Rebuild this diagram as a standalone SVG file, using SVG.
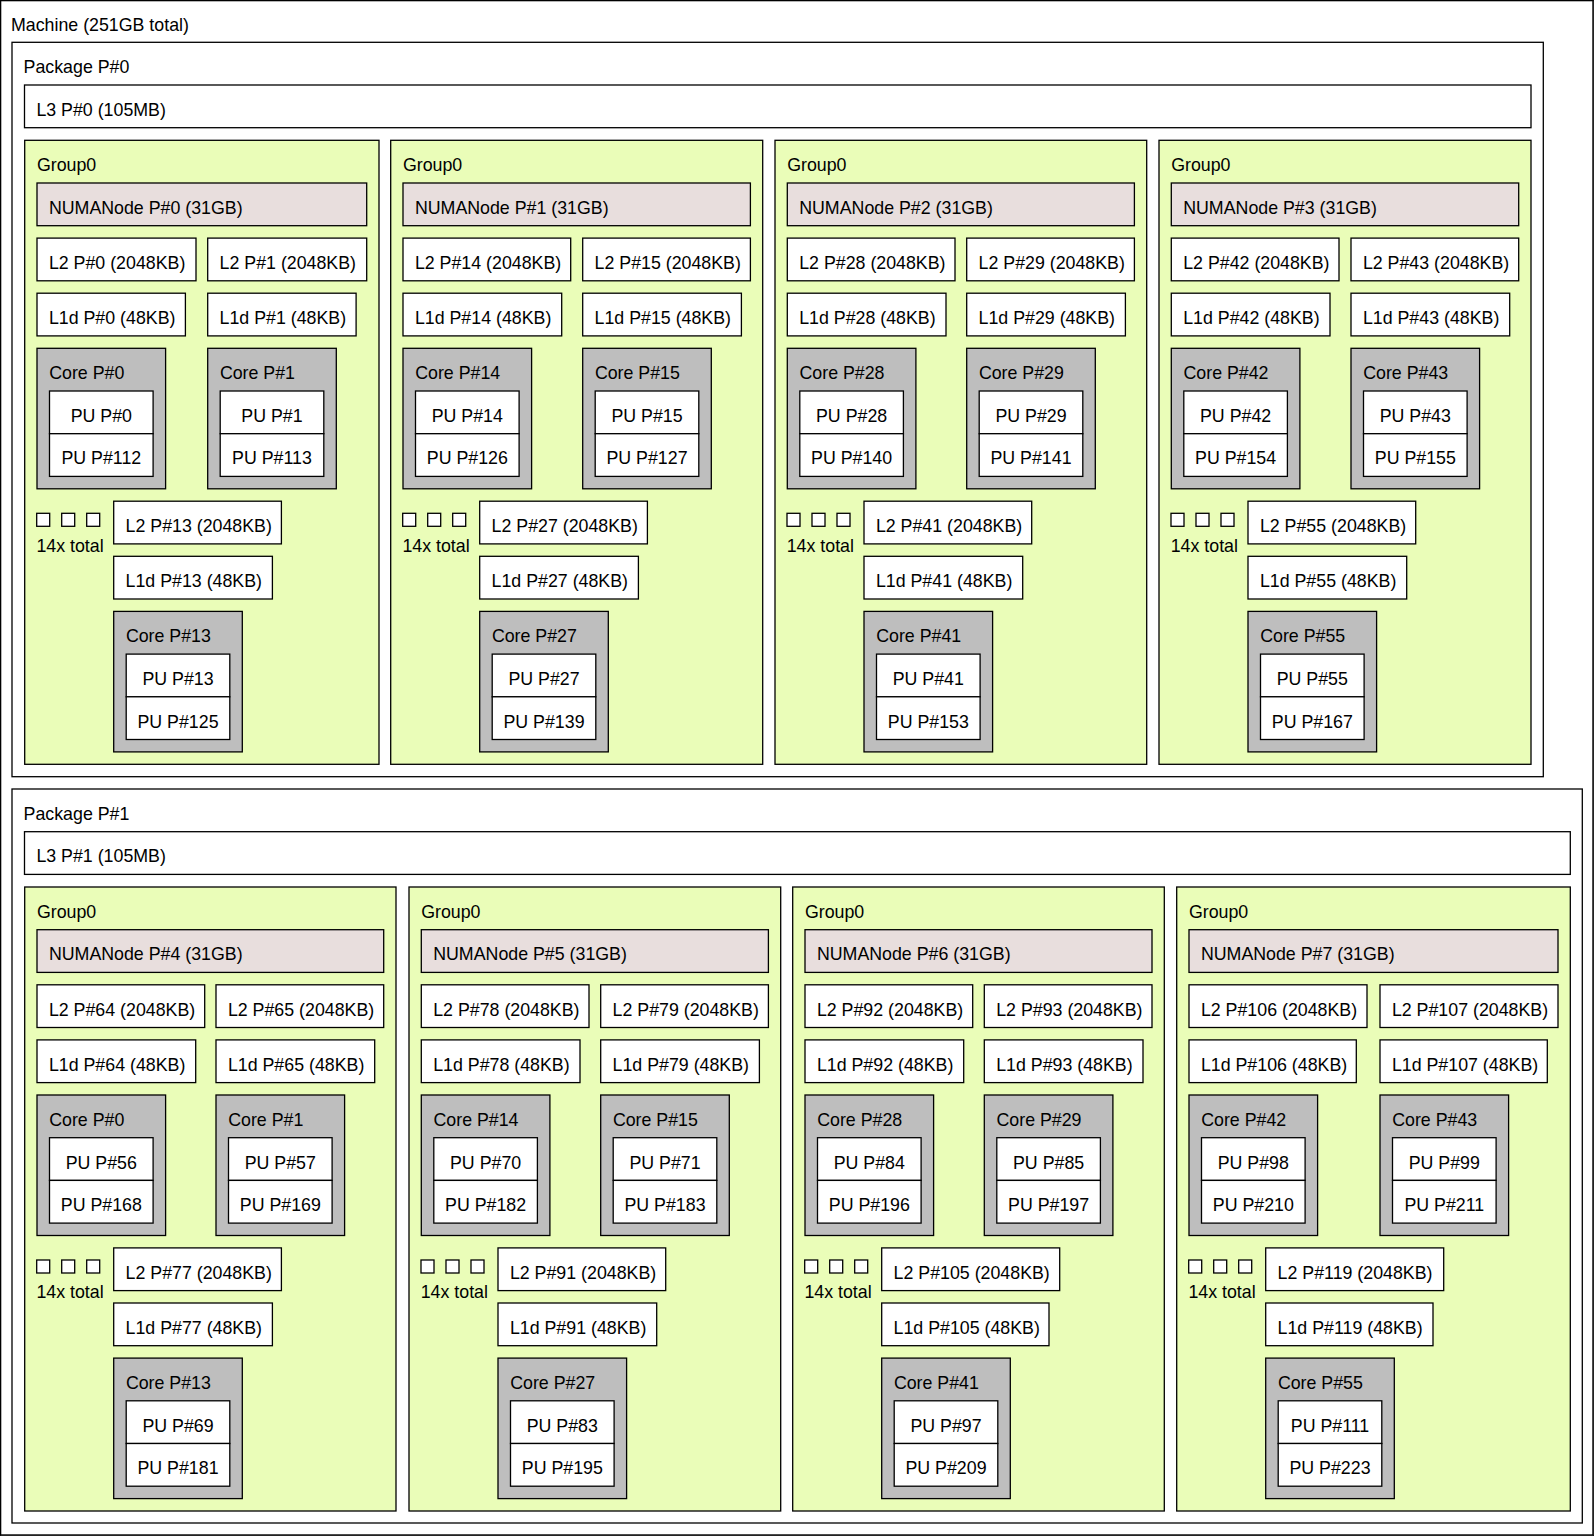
<svg xmlns="http://www.w3.org/2000/svg" width="1594" height="1536" viewBox="0 0 1594 1536">
<style>
  rect { stroke: #000; stroke-width: 1.3; }
  .w { fill: #ffffff; }
  .grp { fill: #eafdb8; }
  .numa { fill: #e8dedd; }
  .core { fill: #bebebe; }
  text { font-family: "Liberation Sans", Arial, Helvetica, sans-serif; font-size: 17.8px; fill: #000; }
  .c { text-anchor: middle; }
</style>
<rect x="0" y="0" width="1594" height="1536" fill="#ffffff" stroke="none"/>

<!-- Machine -->
<g id="machine">
  <rect class="w" x="0.65" y="0.65" width="1592.3" height="1534.3"/>
  <text x="11" y="31.3">Machine (251GB total)</text>
</g>

<!-- Package P#0 -->
<g id="package0">
  <rect class="w" x="12" y="42.3" width="1531.3" height="734.4"/>
  <text x="23.6" y="73.2">Package P#0</text>
</g>
<g id="l3-0" transform="translate(24.5,85)">
  <rect class="w" width="1506.5" height="42.7"/>
  <text x="11.9" y="30.8">L3 P#0 (105MB)</text>
</g>

<!-- Group0 / NUMANode P#0 -->
<g id="grp0" transform="translate(24.7,140.3)">
  <rect class="grp" width="354.3" height="624"/>
  <text x="12.2" y="30.8">Group0</text>
  <g id="numa0" transform="translate(12.3,42.7)"><rect class="numa" width="329.7" height="42.7"/><text x="11.9" y="30.8">NUMANode P#0 (31GB)</text></g>
  <g id="l2-0" transform="translate(12.3,97.8)"><rect class="w" width="159" height="42.7"/><text x="11.9" y="30.8">L2 P#0 (2048KB)</text></g>
  <g id="l2-1" transform="translate(183,97.8)"><rect class="w" width="159" height="42.7"/><text x="11.9" y="30.8">L2 P#1 (2048KB)</text></g>
  <g id="l1d-0" transform="translate(12.3,152.9)"><rect class="w" width="148.4" height="42.7"/><text x="11.9" y="30.8">L1d P#0 (48KB)</text></g>
  <g id="l1d-1" transform="translate(183,152.9)"><rect class="w" width="148.4" height="42.7"/><text x="11.9" y="30.8">L1d P#1 (48KB)</text></g>
  <g id="grp0-core0" transform="translate(12.3,208)"><rect class="core" width="128.6" height="140.5"/><text x="12.2" y="30.8">Core P#0</text>
    <g id="pu0"><rect class="w" x="12.5" y="42.7" width="103.6" height="42.7"/><text class="c" x="64.3" y="73.5">PU P#0</text></g>
    <g id="pu112"><rect class="w" x="12.5" y="85.4" width="103.6" height="42.7"/><text class="c" x="64.3" y="116.2">PU P#112</text></g></g>
  <g id="grp0-core1" transform="translate(183,208)"><rect class="core" width="128.6" height="140.5"/><text x="12.2" y="30.8">Core P#1</text>
    <g id="pu1"><rect class="w" x="12.5" y="42.7" width="103.6" height="42.7"/><text class="c" x="64.3" y="73.5">PU P#1</text></g>
    <g id="pu113"><rect class="w" x="12.5" y="85.4" width="103.6" height="42.7"/><text class="c" x="64.3" y="116.2">PU P#113</text></g></g>
  <g id="grp0-more"><rect class="w" x="12" y="373" width="13" height="13"/><rect class="w" x="37" y="373" width="13" height="13"/><rect class="w" x="62" y="373" width="13" height="13"/><text x="11.7" y="411.4">14x total</text></g>
  <g id="l2-13" transform="translate(89,360.9)"><rect class="w" width="167.7" height="42.7"/><text x="11.9" y="30.8">L2 P#13 (2048KB)</text></g>
  <g id="l1d-13" transform="translate(89,416)"><rect class="w" width="158.7" height="42.7"/><text x="11.9" y="30.8">L1d P#13 (48KB)</text></g>
  <g id="grp0-core13" transform="translate(89,471.1)"><rect class="core" width="128.6" height="140.5"/><text x="12.2" y="30.8">Core P#13</text>
    <g id="pu13"><rect class="w" x="12.5" y="42.7" width="103.6" height="42.7"/><text class="c" x="64.3" y="73.5">PU P#13</text></g>
    <g id="pu125"><rect class="w" x="12.5" y="85.4" width="103.6" height="42.7"/><text class="c" x="64.3" y="116.2">PU P#125</text></g></g>
</g>

<!-- Group0 / NUMANode P#1 -->
<g id="grp1" transform="translate(390.7,140.3)">
  <rect class="grp" width="372" height="624"/>
  <text x="12.2" y="30.8">Group0</text>
  <g id="numa1" transform="translate(12.3,42.7)"><rect class="numa" width="347.4" height="42.7"/><text x="11.9" y="30.8">NUMANode P#1 (31GB)</text></g>
  <g id="l2-14" transform="translate(12.3,97.8)"><rect class="w" width="167.7" height="42.7"/><text x="11.9" y="30.8">L2 P#14 (2048KB)</text></g>
  <g id="l2-15" transform="translate(192,97.8)"><rect class="w" width="167.7" height="42.7"/><text x="11.9" y="30.8">L2 P#15 (2048KB)</text></g>
  <g id="l1d-14" transform="translate(12.3,152.9)"><rect class="w" width="158.7" height="42.7"/><text x="11.9" y="30.8">L1d P#14 (48KB)</text></g>
  <g id="l1d-15" transform="translate(192,152.9)"><rect class="w" width="158.7" height="42.7"/><text x="11.9" y="30.8">L1d P#15 (48KB)</text></g>
  <g id="grp1-core14" transform="translate(12.3,208)"><rect class="core" width="128.6" height="140.5"/><text x="12.2" y="30.8">Core P#14</text>
    <g id="pu14"><rect class="w" x="12.5" y="42.7" width="103.6" height="42.7"/><text class="c" x="64.3" y="73.5">PU P#14</text></g>
    <g id="pu126"><rect class="w" x="12.5" y="85.4" width="103.6" height="42.7"/><text class="c" x="64.3" y="116.2">PU P#126</text></g></g>
  <g id="grp1-core15" transform="translate(192,208)"><rect class="core" width="128.6" height="140.5"/><text x="12.2" y="30.8">Core P#15</text>
    <g id="pu15"><rect class="w" x="12.5" y="42.7" width="103.6" height="42.7"/><text class="c" x="64.3" y="73.5">PU P#15</text></g>
    <g id="pu127"><rect class="w" x="12.5" y="85.4" width="103.6" height="42.7"/><text class="c" x="64.3" y="116.2">PU P#127</text></g></g>
  <g id="grp1-more"><rect class="w" x="12" y="373" width="13" height="13"/><rect class="w" x="37" y="373" width="13" height="13"/><rect class="w" x="62" y="373" width="13" height="13"/><text x="11.7" y="411.4">14x total</text></g>
  <g id="l2-27" transform="translate(89,360.9)"><rect class="w" width="167.7" height="42.7"/><text x="11.9" y="30.8">L2 P#27 (2048KB)</text></g>
  <g id="l1d-27" transform="translate(89,416)"><rect class="w" width="158.7" height="42.7"/><text x="11.9" y="30.8">L1d P#27 (48KB)</text></g>
  <g id="grp1-core27" transform="translate(89,471.1)"><rect class="core" width="128.6" height="140.5"/><text x="12.2" y="30.8">Core P#27</text>
    <g id="pu27"><rect class="w" x="12.5" y="42.7" width="103.6" height="42.7"/><text class="c" x="64.3" y="73.5">PU P#27</text></g>
    <g id="pu139"><rect class="w" x="12.5" y="85.4" width="103.6" height="42.7"/><text class="c" x="64.3" y="116.2">PU P#139</text></g></g>
</g>

<!-- Group0 / NUMANode P#2 -->
<g id="grp2" transform="translate(775,140.3)">
  <rect class="grp" width="371.7" height="624"/>
  <text x="12.2" y="30.8">Group0</text>
  <g id="numa2" transform="translate(12.3,42.7)"><rect class="numa" width="347.1" height="42.7"/><text x="11.9" y="30.8">NUMANode P#2 (31GB)</text></g>
  <g id="l2-28" transform="translate(12.3,97.8)"><rect class="w" width="167.7" height="42.7"/><text x="11.9" y="30.8">L2 P#28 (2048KB)</text></g>
  <g id="l2-29" transform="translate(191.7,97.8)"><rect class="w" width="167.7" height="42.7"/><text x="11.9" y="30.8">L2 P#29 (2048KB)</text></g>
  <g id="l1d-28" transform="translate(12.3,152.9)"><rect class="w" width="158.7" height="42.7"/><text x="11.9" y="30.8">L1d P#28 (48KB)</text></g>
  <g id="l1d-29" transform="translate(191.7,152.9)"><rect class="w" width="158.7" height="42.7"/><text x="11.9" y="30.8">L1d P#29 (48KB)</text></g>
  <g id="grp2-core28" transform="translate(12.3,208)"><rect class="core" width="128.6" height="140.5"/><text x="12.2" y="30.8">Core P#28</text>
    <g id="pu28"><rect class="w" x="12.5" y="42.7" width="103.6" height="42.7"/><text class="c" x="64.3" y="73.5">PU P#28</text></g>
    <g id="pu140"><rect class="w" x="12.5" y="85.4" width="103.6" height="42.7"/><text class="c" x="64.3" y="116.2">PU P#140</text></g></g>
  <g id="grp2-core29" transform="translate(191.7,208)"><rect class="core" width="128.6" height="140.5"/><text x="12.2" y="30.8">Core P#29</text>
    <g id="pu29"><rect class="w" x="12.5" y="42.7" width="103.6" height="42.7"/><text class="c" x="64.3" y="73.5">PU P#29</text></g>
    <g id="pu141"><rect class="w" x="12.5" y="85.4" width="103.6" height="42.7"/><text class="c" x="64.3" y="116.2">PU P#141</text></g></g>
  <g id="grp2-more"><rect class="w" x="12" y="373" width="13" height="13"/><rect class="w" x="37" y="373" width="13" height="13"/><rect class="w" x="62" y="373" width="13" height="13"/><text x="11.7" y="411.4">14x total</text></g>
  <g id="l2-41" transform="translate(89,360.9)"><rect class="w" width="167.7" height="42.7"/><text x="11.9" y="30.8">L2 P#41 (2048KB)</text></g>
  <g id="l1d-41" transform="translate(89,416)"><rect class="w" width="158.7" height="42.7"/><text x="11.9" y="30.8">L1d P#41 (48KB)</text></g>
  <g id="grp2-core41" transform="translate(89,471.1)"><rect class="core" width="128.6" height="140.5"/><text x="12.2" y="30.8">Core P#41</text>
    <g id="pu41"><rect class="w" x="12.5" y="42.7" width="103.6" height="42.7"/><text class="c" x="64.3" y="73.5">PU P#41</text></g>
    <g id="pu153"><rect class="w" x="12.5" y="85.4" width="103.6" height="42.7"/><text class="c" x="64.3" y="116.2">PU P#153</text></g></g>
</g>

<!-- Group0 / NUMANode P#3 -->
<g id="grp3" transform="translate(1159,140.3)">
  <rect class="grp" width="372" height="624"/>
  <text x="12.2" y="30.8">Group0</text>
  <g id="numa3" transform="translate(12.3,42.7)"><rect class="numa" width="347.4" height="42.7"/><text x="11.9" y="30.8">NUMANode P#3 (31GB)</text></g>
  <g id="l2-42" transform="translate(12.3,97.8)"><rect class="w" width="167.7" height="42.7"/><text x="11.9" y="30.8">L2 P#42 (2048KB)</text></g>
  <g id="l2-43" transform="translate(192,97.8)"><rect class="w" width="167.7" height="42.7"/><text x="11.9" y="30.8">L2 P#43 (2048KB)</text></g>
  <g id="l1d-42" transform="translate(12.3,152.9)"><rect class="w" width="158.7" height="42.7"/><text x="11.9" y="30.8">L1d P#42 (48KB)</text></g>
  <g id="l1d-43" transform="translate(192,152.9)"><rect class="w" width="158.7" height="42.7"/><text x="11.9" y="30.8">L1d P#43 (48KB)</text></g>
  <g id="grp3-core42" transform="translate(12.3,208)"><rect class="core" width="128.6" height="140.5"/><text x="12.2" y="30.8">Core P#42</text>
    <g id="pu42"><rect class="w" x="12.5" y="42.7" width="103.6" height="42.7"/><text class="c" x="64.3" y="73.5">PU P#42</text></g>
    <g id="pu154"><rect class="w" x="12.5" y="85.4" width="103.6" height="42.7"/><text class="c" x="64.3" y="116.2">PU P#154</text></g></g>
  <g id="grp3-core43" transform="translate(192,208)"><rect class="core" width="128.6" height="140.5"/><text x="12.2" y="30.8">Core P#43</text>
    <g id="pu43"><rect class="w" x="12.5" y="42.7" width="103.6" height="42.7"/><text class="c" x="64.3" y="73.5">PU P#43</text></g>
    <g id="pu155"><rect class="w" x="12.5" y="85.4" width="103.6" height="42.7"/><text class="c" x="64.3" y="116.2">PU P#155</text></g></g>
  <g id="grp3-more"><rect class="w" x="12" y="373" width="13" height="13"/><rect class="w" x="37" y="373" width="13" height="13"/><rect class="w" x="62" y="373" width="13" height="13"/><text x="11.7" y="411.4">14x total</text></g>
  <g id="l2-55" transform="translate(89,360.9)"><rect class="w" width="167.7" height="42.7"/><text x="11.9" y="30.8">L2 P#55 (2048KB)</text></g>
  <g id="l1d-55" transform="translate(89,416)"><rect class="w" width="158.7" height="42.7"/><text x="11.9" y="30.8">L1d P#55 (48KB)</text></g>
  <g id="grp3-core55" transform="translate(89,471.1)"><rect class="core" width="128.6" height="140.5"/><text x="12.2" y="30.8">Core P#55</text>
    <g id="pu55"><rect class="w" x="12.5" y="42.7" width="103.6" height="42.7"/><text class="c" x="64.3" y="73.5">PU P#55</text></g>
    <g id="pu167"><rect class="w" x="12.5" y="85.4" width="103.6" height="42.7"/><text class="c" x="64.3" y="116.2">PU P#167</text></g></g>
</g>

<!-- Package P#1 -->
<g id="package1">
  <rect class="w" x="12" y="789" width="1570.3" height="734"/>
  <text x="23.6" y="820">Package P#1</text>
</g>
<g id="l3-1" transform="translate(24.5,831.7)">
  <rect class="w" width="1545.8" height="42.7"/>
  <text x="11.9" y="30.8">L3 P#1 (105MB)</text>
</g>

<!-- Group0 / NUMANode P#4 -->
<g id="grp4" transform="translate(24.7,887)">
  <rect class="grp" width="371.3" height="624"/>
  <text x="12.2" y="30.8">Group0</text>
  <g id="numa4" transform="translate(12.3,42.7)"><rect class="numa" width="346.7" height="42.7"/><text x="11.9" y="30.8">NUMANode P#4 (31GB)</text></g>
  <g id="l2-64" transform="translate(12.3,97.8)"><rect class="w" width="167.7" height="42.7"/><text x="11.9" y="30.8">L2 P#64 (2048KB)</text></g>
  <g id="l2-65" transform="translate(191.3,97.8)"><rect class="w" width="167.7" height="42.7"/><text x="11.9" y="30.8">L2 P#65 (2048KB)</text></g>
  <g id="l1d-64" transform="translate(12.3,152.9)"><rect class="w" width="158.7" height="42.7"/><text x="11.9" y="30.8">L1d P#64 (48KB)</text></g>
  <g id="l1d-65" transform="translate(191.3,152.9)"><rect class="w" width="158.7" height="42.7"/><text x="11.9" y="30.8">L1d P#65 (48KB)</text></g>
  <g id="grp4-core0" transform="translate(12.3,208)"><rect class="core" width="128.6" height="140.5"/><text x="12.2" y="30.8">Core P#0</text>
    <g id="pu56"><rect class="w" x="12.5" y="42.7" width="103.6" height="42.7"/><text class="c" x="64.3" y="73.5">PU P#56</text></g>
    <g id="pu168"><rect class="w" x="12.5" y="85.4" width="103.6" height="42.7"/><text class="c" x="64.3" y="116.2">PU P#168</text></g></g>
  <g id="grp4-core1" transform="translate(191.3,208)"><rect class="core" width="128.6" height="140.5"/><text x="12.2" y="30.8">Core P#1</text>
    <g id="pu57"><rect class="w" x="12.5" y="42.7" width="103.6" height="42.7"/><text class="c" x="64.3" y="73.5">PU P#57</text></g>
    <g id="pu169"><rect class="w" x="12.5" y="85.4" width="103.6" height="42.7"/><text class="c" x="64.3" y="116.2">PU P#169</text></g></g>
  <g id="grp4-more"><rect class="w" x="12" y="373" width="13" height="13"/><rect class="w" x="37" y="373" width="13" height="13"/><rect class="w" x="62" y="373" width="13" height="13"/><text x="11.7" y="411.4">14x total</text></g>
  <g id="l2-77" transform="translate(89,360.9)"><rect class="w" width="167.7" height="42.7"/><text x="11.9" y="30.8">L2 P#77 (2048KB)</text></g>
  <g id="l1d-77" transform="translate(89,416)"><rect class="w" width="158.7" height="42.7"/><text x="11.9" y="30.8">L1d P#77 (48KB)</text></g>
  <g id="grp4-core13" transform="translate(89,471.1)"><rect class="core" width="128.6" height="140.5"/><text x="12.2" y="30.8">Core P#13</text>
    <g id="pu69"><rect class="w" x="12.5" y="42.7" width="103.6" height="42.7"/><text class="c" x="64.3" y="73.5">PU P#69</text></g>
    <g id="pu181"><rect class="w" x="12.5" y="85.4" width="103.6" height="42.7"/><text class="c" x="64.3" y="116.2">PU P#181</text></g></g>
</g>

<!-- Group0 / NUMANode P#5 -->
<g id="grp5" transform="translate(409,887)">
  <rect class="grp" width="371.7" height="624"/>
  <text x="12.2" y="30.8">Group0</text>
  <g id="numa5" transform="translate(12.3,42.7)"><rect class="numa" width="347.1" height="42.7"/><text x="11.9" y="30.8">NUMANode P#5 (31GB)</text></g>
  <g id="l2-78" transform="translate(12.3,97.8)"><rect class="w" width="167.7" height="42.7"/><text x="11.9" y="30.8">L2 P#78 (2048KB)</text></g>
  <g id="l2-79" transform="translate(191.7,97.8)"><rect class="w" width="167.7" height="42.7"/><text x="11.9" y="30.8">L2 P#79 (2048KB)</text></g>
  <g id="l1d-78" transform="translate(12.3,152.9)"><rect class="w" width="158.7" height="42.7"/><text x="11.9" y="30.8">L1d P#78 (48KB)</text></g>
  <g id="l1d-79" transform="translate(191.7,152.9)"><rect class="w" width="158.7" height="42.7"/><text x="11.9" y="30.8">L1d P#79 (48KB)</text></g>
  <g id="grp5-core14" transform="translate(12.3,208)"><rect class="core" width="128.6" height="140.5"/><text x="12.2" y="30.8">Core P#14</text>
    <g id="pu70"><rect class="w" x="12.5" y="42.7" width="103.6" height="42.7"/><text class="c" x="64.3" y="73.5">PU P#70</text></g>
    <g id="pu182"><rect class="w" x="12.5" y="85.4" width="103.6" height="42.7"/><text class="c" x="64.3" y="116.2">PU P#182</text></g></g>
  <g id="grp5-core15" transform="translate(191.7,208)"><rect class="core" width="128.6" height="140.5"/><text x="12.2" y="30.8">Core P#15</text>
    <g id="pu71"><rect class="w" x="12.5" y="42.7" width="103.6" height="42.7"/><text class="c" x="64.3" y="73.5">PU P#71</text></g>
    <g id="pu183"><rect class="w" x="12.5" y="85.4" width="103.6" height="42.7"/><text class="c" x="64.3" y="116.2">PU P#183</text></g></g>
  <g id="grp5-more"><rect class="w" x="12" y="373" width="13" height="13"/><rect class="w" x="37" y="373" width="13" height="13"/><rect class="w" x="62" y="373" width="13" height="13"/><text x="11.7" y="411.4">14x total</text></g>
  <g id="l2-91" transform="translate(89,360.9)"><rect class="w" width="167.7" height="42.7"/><text x="11.9" y="30.8">L2 P#91 (2048KB)</text></g>
  <g id="l1d-91" transform="translate(89,416)"><rect class="w" width="158.7" height="42.7"/><text x="11.9" y="30.8">L1d P#91 (48KB)</text></g>
  <g id="grp5-core27" transform="translate(89,471.1)"><rect class="core" width="128.6" height="140.5"/><text x="12.2" y="30.8">Core P#27</text>
    <g id="pu83"><rect class="w" x="12.5" y="42.7" width="103.6" height="42.7"/><text class="c" x="64.3" y="73.5">PU P#83</text></g>
    <g id="pu195"><rect class="w" x="12.5" y="85.4" width="103.6" height="42.7"/><text class="c" x="64.3" y="116.2">PU P#195</text></g></g>
</g>

<!-- Group0 / NUMANode P#6 -->
<g id="grp6" transform="translate(792.7,887)">
  <rect class="grp" width="371.6" height="624"/>
  <text x="12.2" y="30.8">Group0</text>
  <g id="numa6" transform="translate(12.3,42.7)"><rect class="numa" width="347" height="42.7"/><text x="11.9" y="30.8">NUMANode P#6 (31GB)</text></g>
  <g id="l2-92" transform="translate(12.3,97.8)"><rect class="w" width="167.7" height="42.7"/><text x="11.9" y="30.8">L2 P#92 (2048KB)</text></g>
  <g id="l2-93" transform="translate(191.6,97.8)"><rect class="w" width="167.7" height="42.7"/><text x="11.9" y="30.8">L2 P#93 (2048KB)</text></g>
  <g id="l1d-92" transform="translate(12.3,152.9)"><rect class="w" width="158.7" height="42.7"/><text x="11.9" y="30.8">L1d P#92 (48KB)</text></g>
  <g id="l1d-93" transform="translate(191.6,152.9)"><rect class="w" width="158.7" height="42.7"/><text x="11.9" y="30.8">L1d P#93 (48KB)</text></g>
  <g id="grp6-core28" transform="translate(12.3,208)"><rect class="core" width="128.6" height="140.5"/><text x="12.2" y="30.8">Core P#28</text>
    <g id="pu84"><rect class="w" x="12.5" y="42.7" width="103.6" height="42.7"/><text class="c" x="64.3" y="73.5">PU P#84</text></g>
    <g id="pu196"><rect class="w" x="12.5" y="85.4" width="103.6" height="42.7"/><text class="c" x="64.3" y="116.2">PU P#196</text></g></g>
  <g id="grp6-core29" transform="translate(191.6,208)"><rect class="core" width="128.6" height="140.5"/><text x="12.2" y="30.8">Core P#29</text>
    <g id="pu85"><rect class="w" x="12.5" y="42.7" width="103.6" height="42.7"/><text class="c" x="64.3" y="73.5">PU P#85</text></g>
    <g id="pu197"><rect class="w" x="12.5" y="85.4" width="103.6" height="42.7"/><text class="c" x="64.3" y="116.2">PU P#197</text></g></g>
  <g id="grp6-more"><rect class="w" x="12" y="373" width="13" height="13"/><rect class="w" x="37" y="373" width="13" height="13"/><rect class="w" x="62" y="373" width="13" height="13"/><text x="11.7" y="411.4">14x total</text></g>
  <g id="l2-105" transform="translate(89,360.9)"><rect class="w" width="178" height="42.7"/><text x="11.9" y="30.8">L2 P#105 (2048KB)</text></g>
  <g id="l1d-105" transform="translate(89,416)"><rect class="w" width="167.3" height="42.7"/><text x="11.9" y="30.8">L1d P#105 (48KB)</text></g>
  <g id="grp6-core41" transform="translate(89,471.1)"><rect class="core" width="128.6" height="140.5"/><text x="12.2" y="30.8">Core P#41</text>
    <g id="pu97"><rect class="w" x="12.5" y="42.7" width="103.6" height="42.7"/><text class="c" x="64.3" y="73.5">PU P#97</text></g>
    <g id="pu209"><rect class="w" x="12.5" y="85.4" width="103.6" height="42.7"/><text class="c" x="64.3" y="116.2">PU P#209</text></g></g>
</g>

<!-- Group0 / NUMANode P#7 -->
<g id="grp7" transform="translate(1176.7,887)">
  <rect class="grp" width="393.6" height="624"/>
  <text x="12.2" y="30.8">Group0</text>
  <g id="numa7" transform="translate(12.3,42.7)"><rect class="numa" width="369" height="42.7"/><text x="11.9" y="30.8">NUMANode P#7 (31GB)</text></g>
  <g id="l2-106" transform="translate(12.3,97.8)"><rect class="w" width="178" height="42.7"/><text x="11.9" y="30.8">L2 P#106 (2048KB)</text></g>
  <g id="l2-107" transform="translate(203.3,97.8)"><rect class="w" width="178" height="42.7"/><text x="11.9" y="30.8">L2 P#107 (2048KB)</text></g>
  <g id="l1d-106" transform="translate(12.3,152.9)"><rect class="w" width="167.3" height="42.7"/><text x="11.9" y="30.8">L1d P#106 (48KB)</text></g>
  <g id="l1d-107" transform="translate(203.3,152.9)"><rect class="w" width="167.3" height="42.7"/><text x="11.9" y="30.8">L1d P#107 (48KB)</text></g>
  <g id="grp7-core42" transform="translate(12.3,208)"><rect class="core" width="128.6" height="140.5"/><text x="12.2" y="30.8">Core P#42</text>
    <g id="pu98"><rect class="w" x="12.5" y="42.7" width="103.6" height="42.7"/><text class="c" x="64.3" y="73.5">PU P#98</text></g>
    <g id="pu210"><rect class="w" x="12.5" y="85.4" width="103.6" height="42.7"/><text class="c" x="64.3" y="116.2">PU P#210</text></g></g>
  <g id="grp7-core43" transform="translate(203.3,208)"><rect class="core" width="128.6" height="140.5"/><text x="12.2" y="30.8">Core P#43</text>
    <g id="pu99"><rect class="w" x="12.5" y="42.7" width="103.6" height="42.7"/><text class="c" x="64.3" y="73.5">PU P#99</text></g>
    <g id="pu211"><rect class="w" x="12.5" y="85.4" width="103.6" height="42.7"/><text class="c" x="64.3" y="116.2">PU P#211</text></g></g>
  <g id="grp7-more"><rect class="w" x="12" y="373" width="13" height="13"/><rect class="w" x="37" y="373" width="13" height="13"/><rect class="w" x="62" y="373" width="13" height="13"/><text x="11.7" y="411.4">14x total</text></g>
  <g id="l2-119" transform="translate(89,360.9)"><rect class="w" width="178" height="42.7"/><text x="11.9" y="30.8">L2 P#119 (2048KB)</text></g>
  <g id="l1d-119" transform="translate(89,416)"><rect class="w" width="167.3" height="42.7"/><text x="11.9" y="30.8">L1d P#119 (48KB)</text></g>
  <g id="grp7-core55" transform="translate(89,471.1)"><rect class="core" width="128.6" height="140.5"/><text x="12.2" y="30.8">Core P#55</text>
    <g id="pu111"><rect class="w" x="12.5" y="42.7" width="103.6" height="42.7"/><text class="c" x="64.3" y="73.5">PU P#111</text></g>
    <g id="pu223"><rect class="w" x="12.5" y="85.4" width="103.6" height="42.7"/><text class="c" x="64.3" y="116.2">PU P#223</text></g></g>
</g>

<!-- no links between boxes in this topology view -->
<g id="connectors"/>
</svg>
